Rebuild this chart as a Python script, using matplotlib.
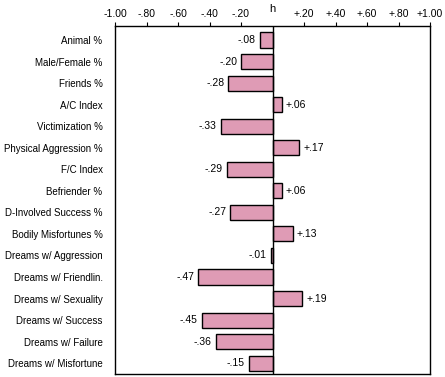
import matplotlib.pyplot as plt

labels = ['Animal %', 'Male/Female %', 'Friends %', 'A/C Index', 'Victimization %',
          'Physical Aggression %', 'F/C Index', 'Befriender %', 'D-Involved Success %',
          'Bodily Misfortunes %', 'Dreams w/ Aggression', 'Dreams w/ Friendlin.',
          'Dreams w/ Sexuality', 'Dreams w/ Success', 'Dreams w/ Failure',
          'Dreams w/ Misfortune']
values = [-0.08, -0.20, -0.28, 0.06, -0.33, 0.17, -0.29, 0.06, -0.27, 0.13,
          -0.01, -0.47, 0.19, -0.45, -0.36, -0.15]
ticks = [-1.0, -0.8, -0.6, -0.4, -0.2, 0.2, 0.4, 0.6, 0.8, 1.0]
tick_labels = ['-1.00', '-.80', '-.60', '-.40', '-.20', '+.20', '+.40', '+.60', '+.80', '+1.00']

plt.rcParams['font.family'] = 'Liberation Sans'
plt.rcParams['font.size'] = 7

fig = plt.figure(figsize=(4.45, 3.77), dpi=100)
ax = fig.add_axes([115 / 445, 3 / 377, 315 / 445, 348 / 377])

y = list(range(len(labels)))
ax.barh(y, values, height=0.7, color='#DF9BB5', edgecolor='black', linewidth=1)
ax.axvline(0, color='black', linewidth=1)

for yi, v in zip(y, values):
    txt = f'{v:+.2f}'.replace('0.', '.')
    if v < 0:
        ax.text(v - 0.025, yi, txt, ha='right', va='center', fontsize=7.5)
    else:
        ax.text(v + 0.025, yi, txt, ha='left', va='center', fontsize=7.5)

ax.set_xlim(-1, 1)
ax.set_ylim(15.5, -0.65)
ax.set_yticks(y)
ax.set_yticklabels(labels)
ax.tick_params(axis='y', length=0, pad=9)
ax.xaxis.tick_top()
ax.set_xticks(ticks)
ax.set_xticklabels(tick_labels, fontsize=7.5)
ax.tick_params(axis='x', direction='out', length=3, pad=2)
ax.text(0, 1.035, 'h', transform=ax.get_xaxis_transform(), ha='center', va='bottom', fontsize=8)

for s in ax.spines.values():
    s.set_linewidth(1)

fig.savefig('out.png', dpi=100)
